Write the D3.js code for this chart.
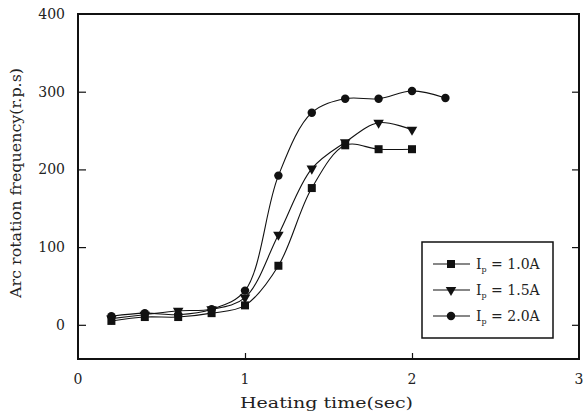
<!DOCTYPE html>
<html>
<head>
<meta charset="utf-8">
<script src="https://cdn.jsdelivr.net/npm/d3@7"></script>
<style>
  body { margin: 0; background: #fff; }
  text { font-family: 'DejaVu Serif', 'Liberation Serif', serif; fill: #222; }
</style>
</head>
<body>
<svg id="chart" width="583" height="415"></svg>
<script>
'use strict';

const times10 = [0.2, 0.4, 0.6, 0.8, 1.0, 1.2, 1.4, 1.6, 1.8, 2.0];
const times20 = [0.2, 0.4, 0.6, 0.8, 1.0, 1.2, 1.4, 1.6, 1.8, 2.0, 2.2];
const freq10 = [5, 10, 10, 15, 25, 76, 176, 231, 226, 226];
const freq15 = [8, 13, 18, 20, 35, 116, 201, 235, 260, 251];
const freq20 = [11, 15, 13, 20, 44, 192, 273, 291, 291, 301, 292];
const seriesNames = ['1.0A', '1.5A', '2.0A'];
const markerTypes = ['square', 'triangle', 'circle'];
const xTicks = [0, 1, 2, 3];
const yTicks = [0, 100, 200, 300, 400];

const series = [
  {name: seriesNames[0], marker: markerTypes[0], xs: times10, ys: freq10},
  {name: seriesNames[1], marker: markerTypes[1], xs: times10, ys: freq15},
  {name: seriesNames[2], marker: markerTypes[2], xs: times20, ys: freq20}
];

const svg = d3.select('#chart');
const plotLeft = 78, plotRight = 579, plotTop = 14, plotBottom = 359;

const x = d3.scaleLinear().domain([0, 3]).range([plotLeft, plotRight]);
const y = d3.scaleLinear().domain([-44, 400]).range([plotBottom, plotTop]);

// frame
svg.append('rect')
  .attr('x', plotLeft).attr('y', plotTop)
  .attr('width', plotRight - plotLeft).attr('height', plotBottom - plotTop)
  .attr('fill', 'none').attr('stroke', '#111').attr('stroke-width', 2);

// inward ticks
svg.append('g')
  .attr('transform', `translate(${plotLeft},0)`)
  .call(d3.axisRight(y).tickValues(yTicks.slice(0, 4)).tickSize(8).tickFormat(''))
  .call(g => g.select('.domain').remove())
  .selectAll('line').attr('stroke', '#111').attr('stroke-width', 1.2);
svg.append('g')
  .attr('transform', `translate(${plotRight},0)`)
  .call(d3.axisLeft(y).tickValues(yTicks.slice(0, 4)).tickSize(7).tickFormat(''))
  .call(g => g.select('.domain').remove())
  .selectAll('line').attr('stroke', '#111').attr('stroke-width', 1.2);
svg.append('g')
  .attr('transform', `translate(0,${plotBottom})`)
  .call(d3.axisTop(x).tickValues([1, 2]).tickSize(6).tickFormat(''))
  .call(g => g.select('.domain').remove())
  .selectAll('line').attr('stroke', '#111').attr('stroke-width', 1.2);

// tick labels
svg.append('g').selectAll('text')
  .data(yTicks).join('text')
  .attr('x', 65).attr('y', d => y(d) + 5)
  .attr('text-anchor', 'end')
  .style('font-size', '14px')
  .text(d => d);
svg.append('g').selectAll('text')
  .data(xTicks).join('text')
  .attr('x', d => x(d)).attr('y', 384)
  .attr('text-anchor', 'middle')
  .style('font-size', '14px')
  .text(d => d);

// axis titles
svg.append('text')
  .attr('x', 240).attr('y', 408)
  .attr('textLength', 173).attr('lengthAdjust', 'spacingAndGlyphs')
  .style('font-size', '15px')
  .text('Heating time(sec)');
svg.append('text')
  .attr('transform', 'translate(21,298) rotate(-90)')
  .attr('textLength', 230).attr('lengthAdjust', 'spacingAndGlyphs')
  .style('font-size', '15px')
  .text('Arc rotation frequency(r.p.s)');

const sym = {
  square: d3.symbol(d3.symbolSquare, 64),
  circle: d3.symbol(d3.symbolCircle, 56),
  triangle: d3.symbol(d3.symbolTriangle, 48)
};
const markerPath = (g, type) => {
  g.append('path')
    .attr('d', sym[type]())
    .attr('transform', type === 'triangle' ? 'rotate(180)' : null)
    .attr('fill', '#111');
};

const line = d3.line()
  .x(d => x(d[0])).y(d => y(d[1]))
  .curve(d3.curveCatmullRom.alpha(0.5));

series.forEach(s => {
  const pts = s.xs.map((t, i) => [t, s.ys[i]]);
  svg.append('path')
    .attr('d', line(pts))
    .attr('fill', 'none').attr('stroke', '#111').attr('stroke-width', 1.1);
  svg.append('g').selectAll('g')
    .data(pts).join('g')
    .attr('transform', d => `translate(${x(d[0])},${y(d[1])})`)
    .each(function () { markerPath(d3.select(this), s.marker); });
});

// legend
const lg = svg.append('g');
lg.append('rect')
  .attr('x', 422).attr('y', 242).attr('width', 131).attr('height', 96)
  .attr('fill', '#fff').attr('stroke', '#111').attr('stroke-width', 1.5);
series.forEach((s, i) => {
  const ly = 264 + i * 26;
  lg.append('line')
    .attr('x1', 433).attr('x2', 470).attr('y1', ly).attr('y2', ly)
    .attr('stroke', '#111').attr('stroke-width', 1.1);
  const m = lg.append('g').attr('transform', `translate(451,${ly})`);
  markerPath(m, s.marker);
  const t = lg.append('text')
    .attr('x', 476).attr('y', ly + 5)
    .style('font-size', '14px');
  t.append('tspan').text('I');
  t.append('tspan').attr('dy', 3).style('font-size', '8px').text('p');
  t.append('tspan').attr('dy', -3).text(' = ' + s.name);
});
</script>
</body>
</html>
